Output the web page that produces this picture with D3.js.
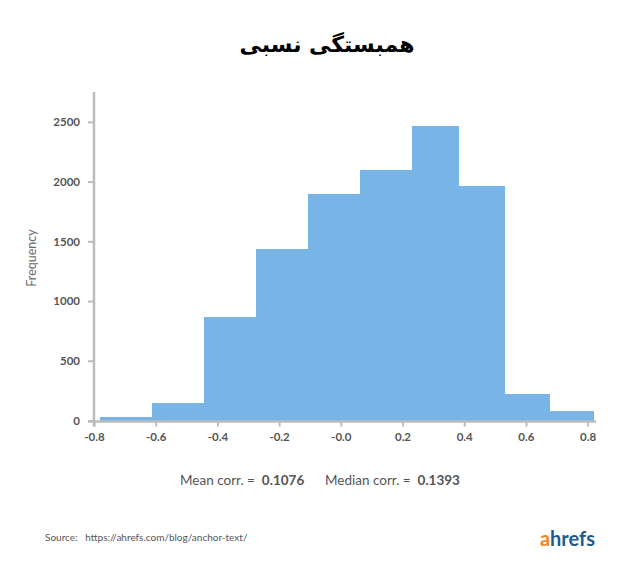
<!DOCTYPE html>
<html>
<head>
<meta charset="utf-8">
<script src="https://cdn.jsdelivr.net/npm/d3@7"></script>
<style>
  body { margin: 0; background: #fff; }
  text { font-family: Lato, "Open Sans", sans-serif; }
</style>
</head>
<body>
<script>
// histogram bins (edges) and counts
var binStart = [-0.781, -0.611, -0.443, -0.275, -0.105, 0.062, 0.231, 0.382, 0.533, 0.678];
var binEnd   = [-0.611, -0.443, -0.275, -0.105, 0.062, 0.231, 0.382, 0.533, 0.678, 0.822];
var counts   = [33, 145, 866, 1433, 1900, 2095, 2466, 1961, 218, 78];

var xTicks = [-0.8, -0.6, -0.4, -0.2, 0.0, 0.2, 0.4, 0.6, 0.8];
var xTickLabels = ["-0.8", "-0.6", "-0.4", "-0.2", "-0.0", "0.2", "0.4", "0.6", "0.8"];
var yTicks = [0, 500, 1000, 1500, 2000, 2500];

var title = "همبستگی نسبی";

var width = 635, height = 576;

var svg = d3.select("body").append("svg")
    .attr("width", width)
    .attr("height", height);

// set ranges
var x = d3.scaleLinear()
    .domain([-0.8, 0.8])
    .range([94, 587.6]);

var y = d3.scaleLinear()
    .domain([0, 2750])
    .range([420.5, 92]);

// bars
var bins = counts.map(function (c, i) {
    return { x0: binStart[i], x1: binEnd[i], n: c };
});

svg.selectAll(".bar")
    .data(bins)
    .enter().append("rect")
    .attr("class", "bar")
    .attr("x", function (d) { return x(d.x0); })
    .attr("width", function (d) { return x(d.x1) - x(d.x0); })
    .attr("y", function (d) { return y(d.n); })
    .attr("height", function (d) { return y(0) - y(d.n); })
    .attr("fill", "#78b4e5")
    .attr("shape-rendering", "crispEdges");

// y axis
var yAxis = svg.append("g")
    .attr("transform", "translate(94,0)")
    .call(d3.axisLeft(y).tickValues(yTicks).tickFormat(d3.format("d"))
        .tickSize(6).tickPadding(8).tickSizeOuter(0));
yAxis.select(".domain").remove();
svg.append("line")
    .attr("x1", 94).attr("x2", 94)
    .attr("y1", 92).attr("y2", y(0) + 6)
    .attr("stroke", "#bbbbbb").attr("stroke-width", 2.5);

// x axis
var xAxis = svg.append("g")
    .attr("transform", "translate(0," + y(0) + ")")
    .call(d3.axisBottom(x).tickValues(xTicks)
        .tickFormat(function (d, i) { return xTickLabels[i]; })
        .tickSize(6).tickPadding(6).tickSizeOuter(0));
xAxis.select(".domain").remove();
svg.append("line")
    .attr("x1", 88).attr("x2", 596)
    .attr("y1", y(0) + 1).attr("y2", y(0) + 1)
    .attr("stroke", "#bbbbbb").attr("stroke-width", 2.5);

svg.selectAll(".tick line")
    .attr("stroke", "#bbbbbb").attr("stroke-width", 2);
svg.selectAll(".tick text")
    .attr("fill", "#555555")
    .style("font-family", "Lato, sans-serif")
    .style("font-size", "11.5px")
    .style("font-weight", "bold");

// y label
svg.append("text")
    .attr("transform", "translate(36,258) rotate(-90)")
    .attr("text-anchor", "middle")
    .attr("fill", "#6a6a6a")
    .style("font-size", "12.5px")
    .text("Frequency");

// title
svg.append("text")
    .attr("x", 327)
    .attr("y", 52)
    .attr("text-anchor", "middle")
    .attr("direction", "rtl")
    .style("font-family", "'DejaVu Sans', sans-serif")
    .style("font-weight", "bold")
    .style("font-size", "22px")
    .attr("fill", "#000")
    .text(title);

// mean / median line
var stats = svg.append("text")
    .attr("x", 320)
    .attr("y", 485)
    .attr("text-anchor", "middle")
    .attr("fill", "#555555")
    .style("font-size", "13.5px")
    .style("white-space", "pre");
stats.append("tspan").text("Mean corr. =  ");
stats.append("tspan").style("font-weight", "bold").text("0.1076");
stats.append("tspan").text("      Median corr. =  ");
stats.append("tspan").style("font-weight", "bold").text("0.1393");

// source
svg.append("text")
    .attr("x", 45)
    .attr("y", 541)
    .attr("fill", "#555555")
    .style("font-size", "10px")
    .text("Source:\u00a0\u00a0\u00a0https://ahrefs.com/blog/anchor-text/");

// logo
var logo = svg.append("text")
    .attr("x", 595)
    .attr("y", 546)
    .attr("text-anchor", "end")
    .style("font-size", "20px")
    .style("font-weight", "bold");
logo.append("tspan").attr("fill", "#f5821f").text("a");
logo.append("tspan").attr("fill", "#1d5c92").text("hrefs");
</script>
</body>
</html>
